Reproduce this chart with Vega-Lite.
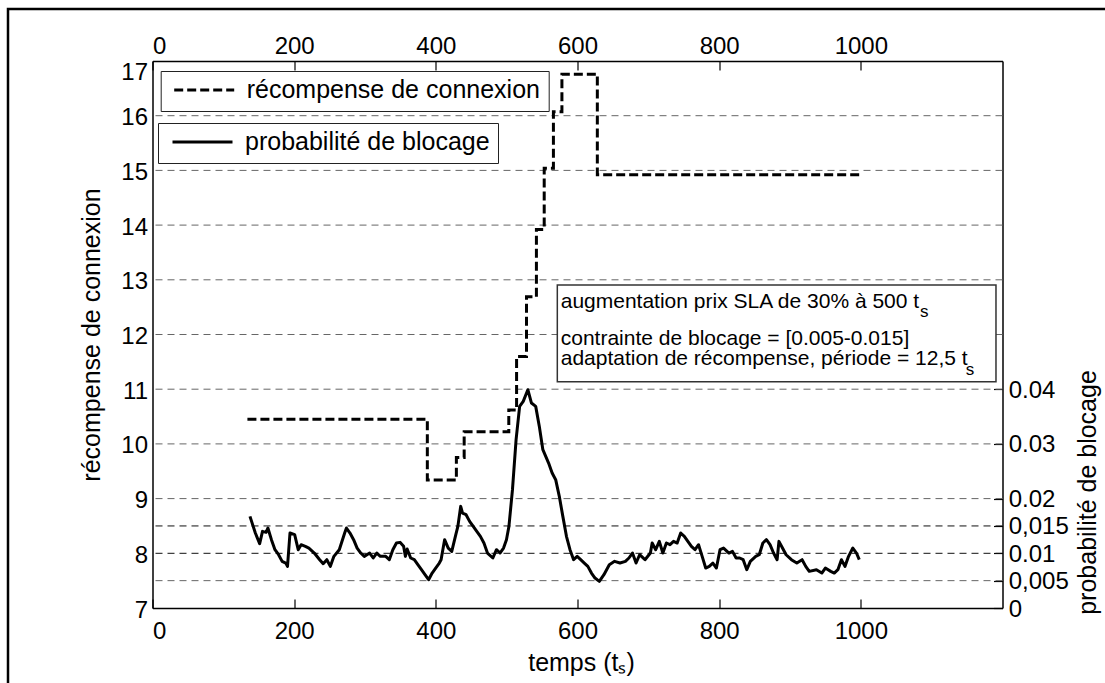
{
  "$schema": "https://vega.github.io/schema/vega-lite/v6.json",
  "width": 850,
  "height": 547,
  "autosize": "none",
  "padding": {"left": 152.5, "top": 61, "right": 102.5, "bottom": 75},
  "background": "white",
  "config": {
    "font": "Liberation Sans",
    "view": {"stroke": null},
    "axis": {"labelFont": "Liberation Sans", "titleFont": "Liberation Sans", "labelColor": "black", "titleColor": "black", "domain": true, "ticks": true, "domainColor": "black", "domainWidth": 1.5, "tickColor": "black", "tickWidth": 1.2, "labelFontSize": 24, "titleFontSize": 25, "titleFontWeight": "normal", "grid": false, "zindex": 2},
    "text": {"font": "Liberation Sans"}
  },
  "datasets": {
    "grid": [{"v": 7.5}, {"v": 8}, {"v": 8.5}, {"v": 9}, {"v": 10}, {"v": 11}, {"v": 12}, {"v": 13}, {"v": 14}, {"v": 15}, {"v": 16}],
    "notes": [
      {"label": "augmentation prix SLA de 30% à 500 t", "t": 576.3, "v": 12.479},
      {"label": "contrainte de blocage = [0.005-0.015]", "t": 576.3, "v": 11.815},
      {"label": "adaptation de récompense, période = 12,5 t", "t": 576.3, "v": 11.442}
    ],
    "subs": [
      {"label": "s", "t": 1083.5, "v": 12.314},
      {"label": "s", "t": 1148, "v": 11.26}
    ],
    "reward": [
      {"t": 134, "r": 10.45}, {"t": 388, "r": 9.34}, {"t": 429, "r": 9.75}, {"t": 440, "r": 10.22},
      {"t": 503, "r": 10.62}, {"t": 514, "r": 11.6}, {"t": 528, "r": 12.69}, {"t": 542, "r": 13.92},
      {"t": 553, "r": 15.04}, {"t": 566, "r": 16.07}, {"t": 578, "r": 16.76}, {"t": 628, "r": 14.92},
      {"t": 998, "r": 14.92}
    ],
    "prob": [
      {"t": 137.6, "p": 0.01675}, {"t": 145.2, "p": 0.01371}, {"t": 151.3, "p": 0.01176}, {"t": 155.3, "p": 0.01401},
      {"t": 160.3, "p": 0.01383}, {"t": 162.9, "p": 0.01462}, {"t": 167.9, "p": 0.01249}, {"t": 172.9, "p": 0.01066},
      {"t": 178.0, "p": 0.00974}, {"t": 183.0, "p": 0.00853}, {"t": 188.1, "p": 0.00822}, {"t": 190.6, "p": 0.00761},
      {"t": 194.1, "p": 0.01371}, {"t": 200.7, "p": 0.0134}, {"t": 205.7, "p": 0.01066}, {"t": 209.8, "p": 0.01157},
      {"t": 215.8, "p": 0.01127}, {"t": 220.8, "p": 0.01096}, {"t": 228.4, "p": 0.01005}, {"t": 236.0, "p": 0.00883},
      {"t": 241.0, "p": 0.0081}, {"t": 246.1, "p": 0.00883}, {"t": 251.1, "p": 0.00761}, {"t": 256.1, "p": 0.00944},
      {"t": 263.7, "p": 0.01066}, {"t": 271.3, "p": 0.01371}, {"t": 273.8, "p": 0.01462}, {"t": 278.8, "p": 0.01371},
      {"t": 283.9, "p": 0.01249}, {"t": 288.9, "p": 0.01096}, {"t": 294.0, "p": 0.01005}, {"t": 299.0, "p": 0.00944},
      {"t": 306.6, "p": 0.01005}, {"t": 311.6, "p": 0.00914}, {"t": 316.6, "p": 0.01005}, {"t": 321.7, "p": 0.00944},
      {"t": 329.3, "p": 0.00944}, {"t": 334.3, "p": 0.00883}, {"t": 339.3, "p": 0.01066}, {"t": 344.4, "p": 0.01188},
      {"t": 349.4, "p": 0.012}, {"t": 354.5, "p": 0.01127}, {"t": 357.0, "p": 0.00944}, {"t": 359.5, "p": 0.01078},
      {"t": 364.5, "p": 0.00914}, {"t": 369.6, "p": 0.00883}, {"t": 374.6, "p": 0.00792}, {"t": 379.7, "p": 0.007},
      {"t": 384.7, "p": 0.00609}, {"t": 389.8, "p": 0.00517}, {"t": 394.8, "p": 0.00639}, {"t": 399.8, "p": 0.00731},
      {"t": 404.9, "p": 0.00822}, {"t": 407.4, "p": 0.00883}, {"t": 412.4, "p": 0.01249}, {"t": 417.5, "p": 0.01096},
      {"t": 422.5, "p": 0.01035}, {"t": 427.6, "p": 0.0131}, {"t": 431.1, "p": 0.01492}, {"t": 435.1, "p": 0.01858},
      {"t": 437.7, "p": 0.01736}, {"t": 442.7, "p": 0.01706}, {"t": 447.7, "p": 0.01584}, {"t": 452.8, "p": 0.01492},
      {"t": 457.8, "p": 0.01401}, {"t": 462.9, "p": 0.0131}, {"t": 467.9, "p": 0.01188}, {"t": 472.9, "p": 0.01005},
      {"t": 480.5, "p": 0.00914}, {"t": 485.6, "p": 0.01066}, {"t": 490.6, "p": 0.01005}, {"t": 495.6, "p": 0.01096},
      {"t": 499.7, "p": 0.01249}, {"t": 503.2, "p": 0.01492}, {"t": 508.2, "p": 0.02163}, {"t": 513.3, "p": 0.03077},
      {"t": 518.3, "p": 0.03686}, {"t": 523.4, "p": 0.03778}, {"t": 529.9, "p": 0.03991}, {"t": 535.0, "p": 0.03747},
      {"t": 541.0, "p": 0.03686}, {"t": 546.1, "p": 0.0332}, {"t": 551.1, "p": 0.02894}, {"t": 559.2, "p": 0.0265},
      {"t": 564.2, "p": 0.02467}, {"t": 569.2, "p": 0.02346}, {"t": 574.3, "p": 0.02041}, {"t": 579.3, "p": 0.01675},
      {"t": 584.4, "p": 0.0131}, {"t": 589.4, "p": 0.01066}, {"t": 594.5, "p": 0.00883}, {"t": 599.5, "p": 0.00944},
      {"t": 604.5, "p": 0.00883}, {"t": 609.6, "p": 0.00822}, {"t": 614.6, "p": 0.00761}, {"t": 619.7, "p": 0.00639},
      {"t": 624.7, "p": 0.00548}, {"t": 630.8, "p": 0.00487}, {"t": 637.3, "p": 0.00609}, {"t": 644.9, "p": 0.00792},
      {"t": 652.4, "p": 0.00853}, {"t": 660.0, "p": 0.00822}, {"t": 667.6, "p": 0.00853}, {"t": 672.6, "p": 0.00914},
      {"t": 677.6, "p": 0.01005}, {"t": 682.7, "p": 0.00822}, {"t": 687.7, "p": 0.00974}, {"t": 695.3, "p": 0.00883},
      {"t": 702.9, "p": 0.01005}, {"t": 705.4, "p": 0.01188}, {"t": 710.4, "p": 0.01066}, {"t": 715.5, "p": 0.01218},
      {"t": 720.5, "p": 0.01005}, {"t": 725.5, "p": 0.01188}, {"t": 730.6, "p": 0.01157}, {"t": 735.6, "p": 0.01218},
      {"t": 740.7, "p": 0.01188}, {"t": 745.7, "p": 0.01371}, {"t": 750.8, "p": 0.0131}, {"t": 755.8, "p": 0.01218},
      {"t": 760.8, "p": 0.01127}, {"t": 765.9, "p": 0.01066}, {"t": 770.9, "p": 0.01157}, {"t": 776.0, "p": 0.00944},
      {"t": 781.0, "p": 0.00731}, {"t": 786.0, "p": 0.00761}, {"t": 791.1, "p": 0.00822}, {"t": 796.1, "p": 0.00731},
      {"t": 801.2, "p": 0.01066}, {"t": 806.2, "p": 0.01096}, {"t": 813.8, "p": 0.01005}, {"t": 818.8, "p": 0.01035},
      {"t": 823.9, "p": 0.00914}, {"t": 828.9, "p": 0.00914}, {"t": 833.9, "p": 0.00883}, {"t": 839.0, "p": 0.007},
      {"t": 844.0, "p": 0.00853}, {"t": 851.6, "p": 0.00944}, {"t": 856.6, "p": 0.00974}, {"t": 861.7, "p": 0.01188},
      {"t": 866.7, "p": 0.01249}, {"t": 871.8, "p": 0.01157}, {"t": 876.8, "p": 0.01005}, {"t": 881.8, "p": 0.00883},
      {"t": 884.4, "p": 0.01218}, {"t": 889.4, "p": 0.01096}, {"t": 894.5, "p": 0.00974}, {"t": 902.0, "p": 0.00883},
      {"t": 909.6, "p": 0.00822}, {"t": 917.1, "p": 0.00883}, {"t": 922.2, "p": 0.00761}, {"t": 927.2, "p": 0.0067},
      {"t": 937.3, "p": 0.007}, {"t": 944.9, "p": 0.00639}, {"t": 949.9, "p": 0.00731}, {"t": 957.5, "p": 0.0067},
      {"t": 962.5, "p": 0.00639}, {"t": 967.6, "p": 0.007}, {"t": 972.6, "p": 0.00883}, {"t": 977.6, "p": 0.00761},
      {"t": 982.7, "p": 0.00944}, {"t": 988.7, "p": 0.01096}, {"t": 993.8, "p": 0.01005}, {"t": 997.8, "p": 0.00883}
    ]
  },
  "layer": [
    {
      "data": {"values": [{}]},
      "mark": {"type": "rect", "filled": false, "color": "black", "strokeWidth": 2.5},
      "encoding": {
        "x": {"datum": -204, "type": "quantitative", "axis": null, "scale": {"domain": [0, 1200], "nice": false}},
        "x2": {"datum": 1352},
        "y": {"datum": 17.95, "type": "quantitative", "axis": null, "scale": {"domain": [7, 17], "nice": false, "zero": false}},
        "y2": {"datum": 5.3}
      }
    },
    {
      "data": {"name": "grid"},
      "mark": {"type": "rule", "strokeDash": [7, 5], "strokeWidth": 1},
      "encoding": {
        "y": {"field": "v", "type": "quantitative", "axis": null, "scale": {"domain": [7, 17], "nice": false, "zero": false}},
        "stroke": {"condition": {"test": "datum.v == 8 || datum.v == 8.5", "value": "#111111"}, "value": "#666666"}
      }
    },
    {
      "data": {"values": [{}]},
      "mark": {"type": "rect", "fill": "white", "stroke": "#333333", "strokeWidth": 1.5},
      "encoding": {
        "x": {"datum": 571.5, "type": "quantitative", "axis": null},
        "x2": {"datum": 1190.8},
        "y": {"datum": 12.905, "type": "quantitative", "axis": null, "scale": {"domain": [7, 17], "nice": false, "zero": false}},
        "y2": {"datum": 11.137}
      }
    },
    {
      "data": {"name": "notes"},
      "mark": {"type": "text", "align": "left", "baseline": "alphabetic", "fontSize": 21, "color": "black"},
      "encoding": {
        "x": {"field": "t", "type": "quantitative", "axis": null},
        "y": {"field": "v", "type": "quantitative", "axis": null, "scale": {"domain": [7, 17], "nice": false, "zero": false}},
        "text": {"field": "label"}
      }
    },
    {
      "data": {"name": "subs"},
      "mark": {"type": "text", "align": "left", "baseline": "alphabetic", "fontSize": 17, "color": "black"},
      "encoding": {
        "x": {"field": "t", "type": "quantitative", "axis": null},
        "y": {"field": "v", "type": "quantitative", "axis": null, "scale": {"domain": [7, 17], "nice": false, "zero": false}},
        "text": {"field": "label"}
      }
    },
    {
      "data": {"name": "reward"},
      "mark": {"type": "line", "interpolate": "step-after", "strokeWidth": 3, "color": "black"},
      "encoding": {
        "x": {
          "field": "t", "type": "quantitative",
          "scale": {"domain": [0, 1200], "nice": false},
          "axis": {"orient": "bottom", "values": [0, 200, 400, 600, 800, 1000], "format": "d", "tickSize": -9, "labelPadding": 20, "title": "temps (tₛ)", "titleX": 428.5, "titleY": 62, "titleBaseline": "alphabetic", "titleAlign": "center"}
        },
        "y": {
          "field": "r", "type": "quantitative",
          "scale": {"domain": [7, 17], "nice": false, "zero": false},
          "axis": {"orient": "left", "values": [7, 8, 9, 10, 11, 12, 13, 14, 15, 16, 17], "ticks": false, "labelPadding": 5,
            "labelOffset": {"condition": {"test": "datum.value == 17", "value": -1}, "value": 2},
            "labelBaseline": {"condition": {"test": "datum.value == 17", "value": "top"}, "value": "middle"},
            "title": "récompense de connexion", "titleX": -61.5, "titleY": 273.5, "titleAngle": 270, "titleAlign": "center", "titleBaseline": "middle"}
        },
        "strokeDash": {
          "datum": "récompense de connexion",
          "scale": {"range": [[9, 4]]},
          "legend": {"orient": "none", "legendX": 8.2, "legendY": 10, "title": null, "symbolType": "stroke", "symbolSize": 3600, "symbolStrokeWidth": 3, "symbolStrokeColor": "black", "labelFontSize": 25, "labelFont": "Liberation Sans", "labelColor": "black", "labelOffset": 11, "labelLimit": 1000, "padding": 8, "symbolOffset": 4, "clipHeight": 22, "strokeColor": "#222222", "fillColor": "white"}
        }
      }
    },
    {
      "data": {"name": "prob"},
      "mark": {"type": "line", "strokeWidth": 3, "strokeJoin": "round"},
      "encoding": {
        "x": {
          "field": "t", "type": "quantitative",
          "scale": {"domain": [0, 1200], "nice": false},
          "axis": {"orient": "top", "values": [0, 200, 400, 600, 800, 1000], "format": "d", "tickSize": -9, "labelPadding": 16.7, "labelBaseline": "alphabetic", "title": null}
        },
        "y": {
          "field": "p", "type": "quantitative",
          "scale": {"domain": [0, 0.1], "nice": false},
          "axis": {"orient": "right", "values": [0, 0.005, 0.01, 0.015, 0.02, 0.03, 0.04], "tickSize": -9, "labelPadding": 14.7, "labelOffset": 1,
            "labelExpr": "datum.value == 0 ? '0' : (abs(datum.value - 0.005) < 1e-9 ? '0,005' : (abs(datum.value - 0.015) < 1e-9 ? '0,015' : format(datum.value, '.2f')))",
            "title": "probabilité de blocage", "titleX": 84.9, "titleY": 431, "titleAngle": 270, "titleAlign": "center", "titleBaseline": "middle"}
        },
        "color": {
          "datum": "probabilité de blocage",
          "scale": {"range": ["black"]},
          "legend": {"orient": "none", "legendX": 5.5, "legendY": 62, "title": null, "symbolType": "stroke", "symbolSize": 3600, "symbolStrokeWidth": 3, "labelFontSize": 25, "labelFont": "Liberation Sans", "labelColor": "black", "labelOffset": 11, "labelLimit": 1000, "padding": 8, "symbolOffset": 5, "clipHeight": 22, "strokeColor": "#222222", "fillColor": "white"}
        }
      }
    }
  ],
  "resolve": {"scale": {"y": "independent"}}
}
